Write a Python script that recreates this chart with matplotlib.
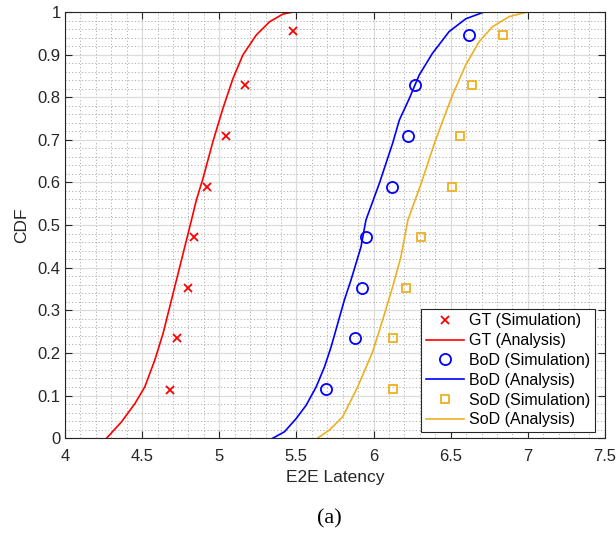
import matplotlib
matplotlib.use("Agg")
import matplotlib.pyplot as plt
from matplotlib.ticker import MultipleLocator

plt.rcParams["font.family"] = ["Liberation Sans", "DejaVu Sans"]

# ---- simulation points
cdf_sim = [0.113, 0.234, 0.353, 0.471, 0.590, 0.709, 0.828, 0.955]
gt_sim_x = [4.681, 4.728, 4.798, 4.834, 4.920, 5.044, 5.169, 5.477]

cdf_sim_bod = [0.115, 0.234, 0.353, 0.472, 0.590, 0.709, 0.828, 0.947]
bod_sim_x = [5.695, 5.882, 5.925, 5.953, 6.119, 6.223, 6.270, 6.618]

cdf_sim_sod = [0.115, 0.234, 0.353, 0.472, 0.590, 0.709, 0.828, 0.947]
sod_sim_x = [6.124, 6.124, 6.212, 6.309, 6.510, 6.559, 6.639, 6.842]

# ---- analysis curves (traced)
gt_ana_x = [4.27, 4.366, 4.453, 4.517, 4.582, 4.636, 4.690, 4.744, 4.798,
            4.852, 4.895, 4.959, 5.024, 5.089, 5.153, 5.240, 5.326, 5.412, 5.48]
gt_ana_y = [0.0, 0.038, 0.081, 0.120, 0.183, 0.246, 0.324, 0.402, 0.480,
            0.559, 0.610, 0.696, 0.774, 0.844, 0.899, 0.946, 0.977, 0.995, 1.0]

bod_ana_x = [5.348, 5.423, 5.499, 5.563, 5.628, 5.682, 5.725, 5.768, 5.811,
             5.854, 5.919, 5.951, 6.038, 6.124, 6.167, 6.232, 6.296, 6.382,
             6.490, 6.598, 6.717]
bod_ana_y = [0.0, 0.015, 0.046, 0.077, 0.120, 0.167, 0.214, 0.269, 0.324,
             0.371, 0.449, 0.512, 0.598, 0.692, 0.746, 0.797, 0.852, 0.903,
             0.954, 0.984, 1.0]

sod_ana_x = [5.638, 5.714, 5.800, 5.897, 5.995, 6.059, 6.124, 6.178, 6.223,
             6.309, 6.395, 6.447, 6.512, 6.598, 6.684, 6.770, 6.878, 6.997]
sod_ana_y = [0.0, 0.019, 0.050, 0.120, 0.203, 0.277, 0.355, 0.426, 0.512,
             0.598, 0.692, 0.743, 0.805, 0.876, 0.930, 0.965, 0.989, 1.0]

x_ticks = [4, 4.5, 5, 5.5, 6, 6.5, 7, 7.5]
x_tick_labels = ["4", "4.5", "5", "5.5", "6", "6.5", "7", "7.5"]
y_ticks = [0, 0.1, 0.2, 0.3, 0.4, 0.5, 0.6, 0.7, 0.8, 0.9, 1]
y_tick_labels = ["0", "0.1", "0.2", "0.3", "0.4", "0.5", "0.6", "0.7", "0.8", "0.9", "1"]

RED = "#ff0000"
BLUE = "#0000ff"
YEL = "#edb120"

fig = plt.figure(figsize=(6.16, 5.33), dpi=100)
ax = fig.add_axes([0.1055, 0.178, 0.8765, 0.7995])

ax.plot(gt_sim_x, cdf_sim, "x", color=RED, ms=6, mew=1.3, label="GT (Simulation)")
ax.plot(gt_ana_x, gt_ana_y, "-", color=RED, lw=1.2, label="GT (Analysis)")
ax.plot(bod_sim_x, cdf_sim_bod, "o", color=BLUE, ms=8, mew=1.3, mfc="none", label="BoD (Simulation)")
ax.plot(bod_ana_x, bod_ana_y, "-", color=BLUE, lw=1.2, label="BoD (Analysis)")
ax.plot(sod_sim_x, cdf_sim_sod, "s", color=YEL, ms=6, mew=1.3, mfc="none", label="SoD (Simulation)")
ax.plot(sod_ana_x, sod_ana_y, "-", color=YEL, lw=1.2, label="SoD (Analysis)")

ax.set_xlim(4, 7.5)
ax.set_ylim(0, 1)
ax.set_xticks(x_ticks)
ax.set_xticklabels(x_tick_labels)
ax.set_yticks(y_ticks)
ax.set_yticklabels(y_tick_labels)
ax.xaxis.set_minor_locator(MultipleLocator(0.1))
ax.yaxis.set_minor_locator(MultipleLocator(0.02))

ax.grid(True, which="major", color="#dcdcdc", lw=0.9, ls="-")
ax.grid(True, which="minor", color="#b0b0b0", lw=0.7, ls=(0, (1.2, 2.2)))
ax.set_axisbelow(True)

ax.tick_params(which="major", direction="in", length=5, width=0.8, top=True, right=True,
               labelsize=12, colors="#262626")
ax.tick_params(axis="x", which="major", pad=8)
ax.tick_params(axis="y", which="major", pad=3)
ax.tick_params(which="minor", length=0, top=True, right=True)
for s in ax.spines.values():
  s.set_color("#262626")
  s.set_linewidth(0.8)

ax.set_xlabel("E2E Latency", fontsize=12.5, color="#262626", labelpad=4)
ax.set_ylabel("CDF", fontsize=12.5, color="#262626", labelpad=6)

leg = ax.legend(loc="lower right", bbox_to_anchor=(0.9815, 0.014), borderaxespad=0,
                fontsize=11.5, frameon=True, fancybox=False,
                edgecolor="#262626", framealpha=1, borderpad=0.3, labelspacing=0.3,
                handlelength=2.4, handletextpad=0.3)
leg.get_frame().set_linewidth(0.8)

fig.text(0.534, 0.026, "(a)", fontsize=16, family=["Liberation Serif", "DejaVu Serif"],
         ha="center", va="center")

fig.savefig("out.png", dpi=100)
